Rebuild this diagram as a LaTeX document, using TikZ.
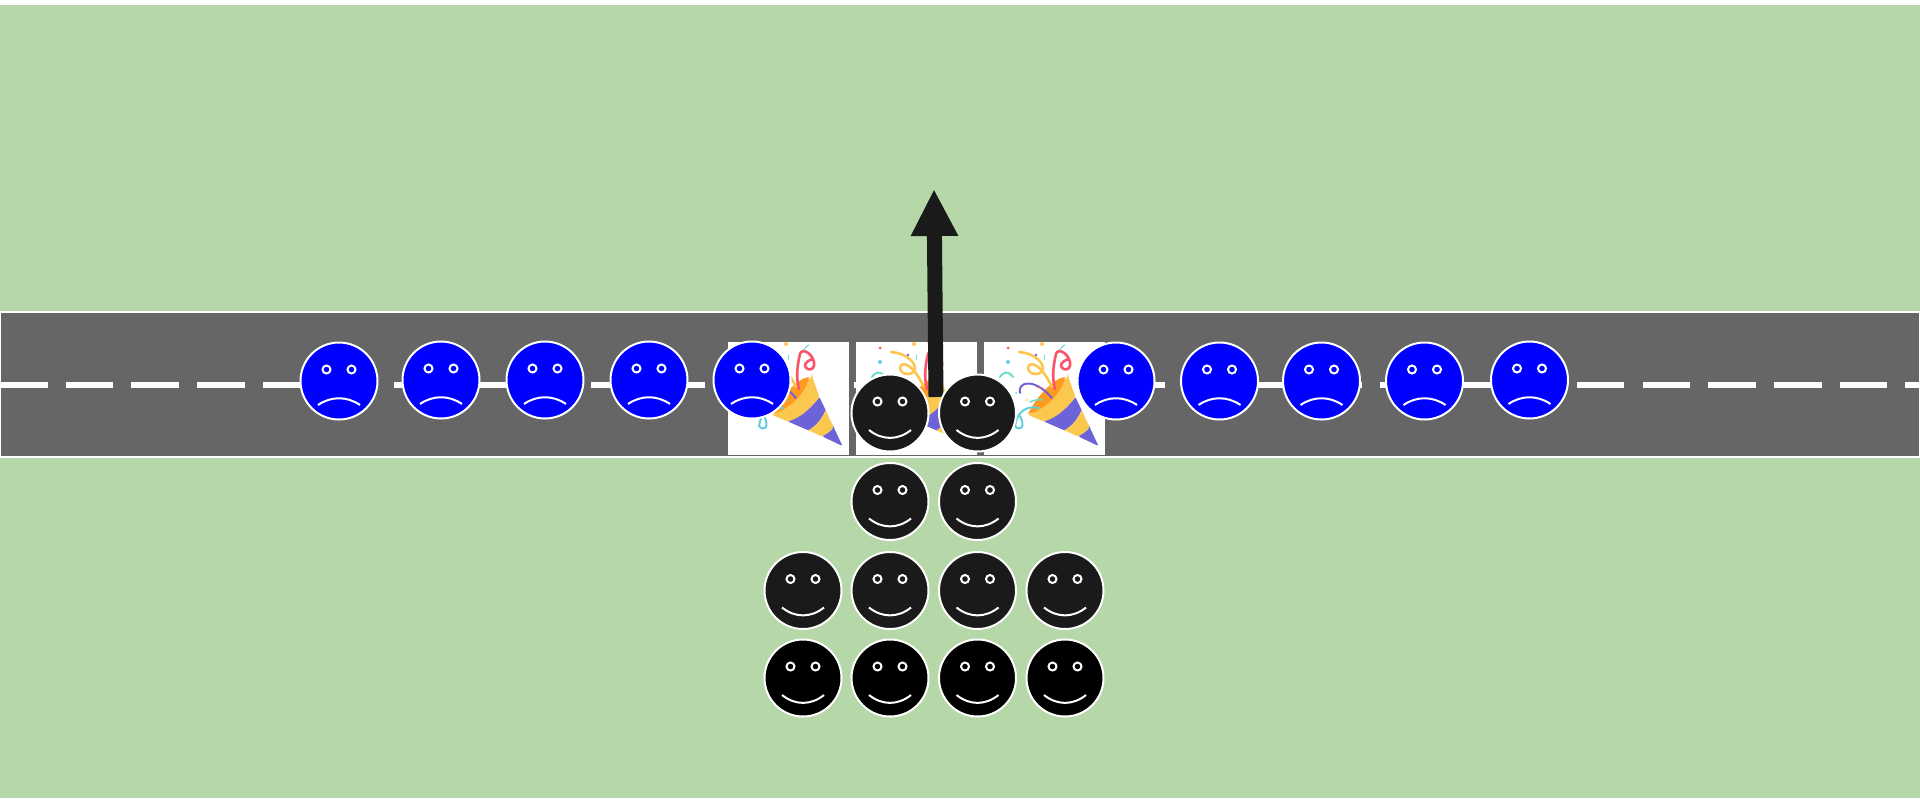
\documentclass[tikz,border=0pt]{standalone}
\usetikzlibrary{arrows.meta}

\definecolor{fieldgreen}{HTML}{B6D7A8}
\definecolor{roadgray}{HTML}{666666}
\definecolor{darkface}{HTML}{1A1A1A}
\definecolor{poppyellow}{HTML}{FBC84F}
\definecolor{poporange}{HTML}{FF9A1F}
\definecolor{poppurple}{HTML}{6C63D9}
\definecolor{popred}{HTML}{F9546B}
\definecolor{popteal}{HTML}{6FDCCA}
\definecolor{popblue}{HTML}{5FCFDC}

\tikzstyle{head}=[draw=white,shape=circle,line width=2pt,minimum size=77pt,inner sep=0pt]
\tikzstyle{eye}=[draw=white,line width=2pt]
\tikzstyle{mouth}=[draw=white,line width=2pt]
\tikzstyle{card}=[fill=white,shape=rectangle,anchor=north west,minimum width=121pt,minimum height=113pt,inner sep=0pt]
\tikzstyle{streamer}=[line width=2.6pt,line cap=round,line join=round]

\tikzset{
  sadface/.pic={
    \node[head,fill=blue](-head) at (0,0){};
    \draw[eye] (-12.5,-11.5) circle (4);
    \draw[eye] (12.5,-11.5) circle (4);
    \draw[mouth] (-21,24) .. controls (-8,15) and (8,15) .. (21,24);
  },
  happyface/.pic={
    \node[head,fill=#1](-head) at (0,0){};
    \draw[eye] (-12.5,-11.5) circle (4);
    \draw[eye] (12.5,-11.5) circle (4);
    \draw[mouth] (-21,17) .. controls (-8,27.5) and (8,27.5) .. (21,17);
  },
  popper/.pic={
    \node[card](-card) at (0,0){};
    % the cone
    \fill[poppyellow,rounded corners=2pt] (84,34) -- (91.6,55.4) .. controls (78,72) and (70,76) .. (60.2,79.6) -- (44,73) .. controls (60,64) and (72,48) .. cycle;
    \fill[poppurple] (91.6,55.4) -- (97.7,68.3) .. controls (93,78) and (88,84) .. (80.2,88.3) -- (60.2,79.6) .. controls (70,76) and (78,72) .. cycle;
    \fill[poppyellow] (97.7,68.3) -- (105.7,85.3) .. controls (103,89) and (99,92) .. (94,94.3) -- (80.2,88.3) .. controls (88,84) and (93,78) .. cycle;
    \fill[poppurple,rounded corners=1.5pt] (105.7,85.3) -- (114.5,104) -- (94,94.3) .. controls (99,92) and (103,89) .. cycle;
    \fill[poporange] (81,35) .. controls (70,36) and (52,55) .. (44,72) .. controls (60,68) and (78,52) .. cycle;
    % streamers
    \draw[streamer,popred] (71,47) .. controls (68,35) and (69,25) .. (72,12) .. controls (74,4) and (88,14) .. (86,24) .. controls (83,33) and (68,22) .. (85,17);
    \draw[streamer,poppyellow] (35,10) .. controls (48,11) and (58,18) .. (59,26) .. controls (58,35) and (44,33) .. (44,26) .. controls (45,19) and (56,20) .. (68,45);
    \draw[streamer,poppurple,line width=2pt] (36,51) .. controls (33,40) and (50,35) .. (68,56);
    \draw[streamer,popteal,line width=2pt] (16,35) .. controls (20,29) and (25,29) .. (29,35);
    \draw[streamer,popblue,line width=2pt] (55,66) .. controls (42,63) and (33,70) .. (31,84) .. controls (36,90) and (42,85) .. (36,74);
    \draw[streamer,popteal,line width=1.5pt] (46,60) .. controls (50,58) and (55,57) .. (59,58);
    \draw[streamer,popteal,line width=1pt] (76,8) .. controls (77,5) and (79,4) .. (81,3);
    \draw[streamer,popred,line width=1pt] (53,45) -- (58,46);
    \draw[streamer,popteal,line width=1pt] (60,13) -- (60,17);
    \fill[popred] (24,6) circle (1.5);
    \fill[poppyellow] (58,2) circle (2);
    \fill[popblue] (24,20) circle (2);
    \fill[poppurple] (52,13) circle (1.3);
    \fill[poppyellow] (43,58) circle (1);
    \fill[popblue] (32,51) circle (1);
  }
}

\begin{document}
\begin{tikzpicture}[x=1pt, y=-1pt]
        \useasboundingbox (0,0) rectangle (1920,801);

        \fill[white] (0,0) rectangle (1920,801);
        \fill[fieldgreen] (0,5) rectangle (1920,798);

        \draw[white,fill=roadgray,line width=1.5pt] (0.5,312) rectangle (1919.5,457);
        \draw[white,line width=6.3pt,dash pattern=on 47.6pt off 18.1pt] (0,385) -- (1920,385);

        \pic (pop1) at (728,342) {popper};
        \pic (pop2) at (856,342) {popper};
        \pic (pop3) at (984,342) {popper};

        \coordinate (tail) at (936,397);
        \coordinate (tip) at (934,189);
        \draw[-{Triangle[width=44pt,length=47pt]},darkface,line width=15pt] (tail) -- (tip);

        \pic (s1) at (339,381) {sadface};
        \pic (s2) at (441,380) {sadface};
        \pic (s3) at (545,380) {sadface};
        \pic (s4) at (649,380) {sadface};
        \pic (s5) at (752,380) {sadface};
        \pic (s6) at (1116,381) {sadface};
        \pic (s7) at (1219.5,381) {sadface};
        \pic (s8) at (1321.5,381) {sadface};
        \pic (s9) at (1424.5,381) {sadface};
        \pic (s10) at (1529.5,380) {sadface};

        \pic (h1) at (890,413) {happyface=darkface};
        \pic (h2) at (977.5,413) {happyface=darkface};
        \pic (h3) at (890,501.5) {happyface=darkface};
        \pic (h4) at (977.5,501.5) {happyface=darkface};
        \pic (h5) at (803,590.5) {happyface=darkface};
        \pic (h6) at (890,590.5) {happyface=darkface};
        \pic (h7) at (977.5,590.5) {happyface=darkface};
        \pic (h8) at (1065,590.5) {happyface=darkface};
        \pic (h9) at (803,678) {happyface=black};
        \pic (h10) at (890,678) {happyface=black};
        \pic (h11) at (977.5,678) {happyface=black};
        \pic (h12) at (1065,678) {happyface=black};
\end{tikzpicture}
\end{document}
